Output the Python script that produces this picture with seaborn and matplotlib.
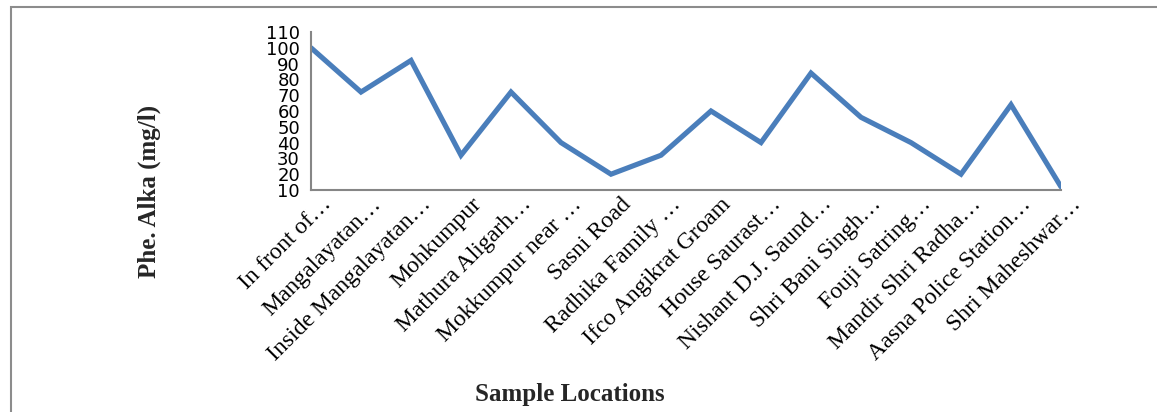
import matplotlib
matplotlib.use("Agg")
import matplotlib.pyplot as plt
import matplotlib.transforms as mtransforms
from matplotlib.patches import Rectangle
import seaborn as sns
import pandas as pd
import numpy as np

locations = [
    "In front of…", "Mangalayatan…", "Inside Mangalayatan…", "Mohkumpur",
    "Mathura Aligarh…", "Mokkumpur near …", "Sasni Road", "Radhika Family …",
    "Ifco Angikrat Groam", "House Saurast…", "Nishant D.J. Saund…",
    "Shri Bani Singh…", "Fouji Satring…", "Mandir Shri Radha…",
    "Aasna Police Station…", "Shri Maheshwar…",
]
alkalinity = [100, 72, 92, 32, 72, 40, 20, 32, 60, 40, 84, 56, 40, 20, 64, 12]
y_ticks = [10, 20, 30, 40, 50, 60, 70, 80, 90, 100, 110]

df = pd.DataFrame({"Location": locations, "Alkalinity": alkalinity})

sns.set_theme(style="white")
plt.rcParams["font.family"] = ["DejaVu Sans"]

W, H = 1157, 412
fig = plt.figure(figsize=(W / 100, H / 100), dpi=100)
ax = fig.add_axes([311 / W, 1 - 190 / H, (1061 - 311) / W, (190 - 32) / H])

sns.lineplot(data=df, x="Location", y="Alkalinity", sort=False, ax=ax,
             color="#4a7ebb", linewidth=3.7, solid_joinstyle="miter")

ax.set_xlim(0, len(locations) - 1)
ax.set_ylim(10, 110)
ax.set_yticks(y_ticks)
ax.set_yticklabels([str(v) for v in y_ticks], fontsize=13, color="black")
ax.set_xticks(range(len(locations)))
ax.set_xticklabels([])

# rotated category labels, anchored at each category position
base = mtransforms.blended_transform_factory(ax.transData, ax.transAxes)
offset = mtransforms.ScaledTranslation(21 / 100, -15 / 100, fig.dpi_scale_trans)
for i, name in enumerate(locations):
    ax.text(i, 0, name, transform=base + offset, rotation=45,
            ha="right", va="baseline", rotation_mode="anchor",
            fontsize=17, family="Liberation Serif", color="black",
            clip_on=False)

ax.set_xlabel("")
ax.set_ylabel("")
for s in ["top", "right"]:
    ax.spines[s].set_visible(False)
for s in ["left", "bottom"]:
    ax.spines[s].set_color("#868686")
    ax.spines[s].set_linewidth(1.5)
ax.tick_params(axis="both", which="both", direction="out", length=6,
               width=1.2, color="#868686", pad=2)
ax.grid(False)

fig.text(149 / W, 1 - 191.5 / H, "Phe. Alka (mg/l)", rotation=90,
         ha="center", va="center", fontsize=18, fontweight="bold",
         family="Liberation Serif")
fig.text(570 / W, 1 - 395 / H, "Sample Locations", ha="center", va="center",
         fontsize=18, fontweight="bold", family="Liberation Serif")

fig.add_artist(Rectangle((10.5 / W, -0.1), 1.2, 1.1 - 7.5 / H,
                         transform=fig.transFigure, fill=False,
                         edgecolor="#8c8c8c", linewidth=1.5))

fig.savefig("out.png", dpi=100)
